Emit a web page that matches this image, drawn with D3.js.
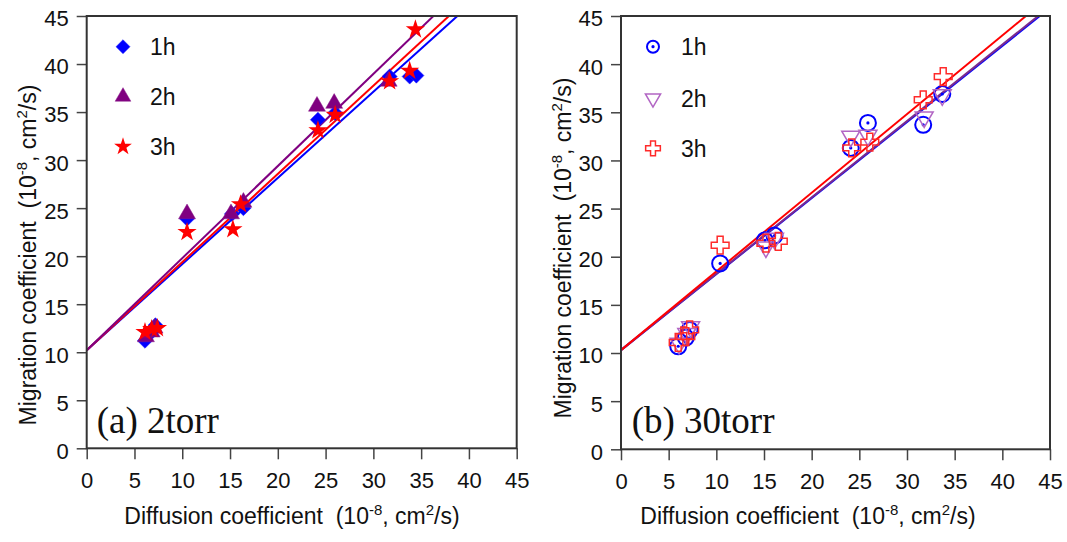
<!DOCTYPE html>
<html>
<head>
<meta charset="utf-8">
<script src="https://cdn.jsdelivr.net/npm/d3@7"></script>
<style>
  html, body { margin: 0; padding: 0; background: #fff; }
  svg { display: block; }
</style>
</head>
<body>
<svg id="chart" width="1067" height="542"></svg>
<script>
// ---------------- DATA ----------------
const xTicks = [0, 5, 10, 15, 20, 25, 30, 35, 40, 45];
const yTicks = [0, 5, 10, 15, 20, 25, 30, 35, 40, 45];
const seriesNames = ["1h", "2h", "3h"];
const panelLabels = ["(a) 2torr", "(b) 30torr"];

// Panel (a) 2 torr
const a1hX = [6.1, 6.7, 7.2, 10.5, 15.2, 16.4, 24.2, 26.0, 31.7, 33.8, 34.5];
const a1hY = [11.2, 12.0, 12.8, 23.9, 24.4, 25.0, 34.2, 34.9, 38.7, 38.7, 38.8];
const a2hX = [6.2, 6.8, 7.1, 10.5, 15.1, 16.4, 24.1, 25.9, 31.6];
const a2hY = [11.6, 12.1, 12.5, 24.4, 24.4, 25.6, 35.6, 35.9, 38.2];
const a3hX = [6.1, 6.8, 7.4, 10.5, 15.3, 16.1, 24.2, 26.0, 31.7, 33.8, 34.4];
const a3hY = [12.1, 12.4, 12.5, 22.5, 22.8, 25.4, 33.1, 34.7, 38.2, 39.3, 43.6];
// fitted lines (a): slope / intercept for 1h, 2h, 3h
const aSlope = [0.897, 0.959, 0.918];
const aIntercept = [10.2, 10.2, 10.2];

// Panel (b) 30 torr
const b1hX = [6.0, 6.8, 7.2, 10.4, 15.1, 16.1, 24.1, 25.9, 31.7, 33.7];
const b1hY = [10.7, 11.6, 12.4, 19.3, 21.7, 22.2, 31.3, 33.9, 33.7, 36.9];
const b2hX = [6.1, 6.9, 7.3, 15.2, 16.1, 24.1, 25.9, 31.8, 33.7];
const b2hY = [11.0, 12.0, 12.7, 21.0, 21.9, 32.5, 32.6, 34.5, 36.8];
const b3hX = [6.0, 6.8, 7.2, 10.4, 15.2, 16.5, 24.2, 26.1, 31.7, 33.8];
const b3hY = [11.1, 11.7, 12.4, 21.2, 21.4, 21.6, 31.3, 31.9, 36.3, 38.7];
const bSlope = [0.790, 0.793, 0.817];
const bIntercept = [10.3, 10.3, 10.3];

// ---------------- DRAW ----------------
const SANS = "Arial, 'Liberation Sans', Helvetica, sans-serif";
const SERIF = "'Times New Roman', 'Liberation Serif', Times, serif";
const svg = d3.select("#chart");

const zip = (xs, ys) => xs.map((x, i) => ({x, y: ys[i]}));

const panels = [
  {
    id: "a", x0: 86.7, x1: 516.7, y0: 448.3, y1: 16,
    label: panelLabels[0], labelX: 96.7,
    ytitle: [36, 255], xtitle: [292, 524],
    legend: {sx: 123, tx: 150, ys: [46.7, 96.7, 146.7]},
    series: [
      {pts: zip(a1hX, a1hY), kind: "diamond"},
      {pts: zip(a2hX, a2hY), kind: "triangle"},
      {pts: zip(a3hX, a3hY), kind: "star"}
    ],
    slope: aSlope, intercept: aIntercept,
    lineColors: ["#0000ff", "#800080", "#ff0000"],
    lineOrder: [0, 2, 1]
  },
  {
    id: "b", x0: 621, x1: 1050, y0: 449.3, y1: 16,
    label: panelLabels[1], labelX: 631.7,
    ytitle: [571, 248], xtitle: [808, 524],
    legend: {sx: 653, tx: 681, ys: [46.7, 98.3, 148.3]},
    series: [
      {pts: zip(b1hX, b1hY), kind: "circle"},
      {pts: zip(b2hX, b2hY), kind: "tridown"},
      {pts: zip(b3hX, b3hY), kind: "cross"}
    ],
    slope: bSlope, intercept: bIntercept,
    lineColors: ["#0000ff", "#7b2a8f", "#ff0000"],
    lineOrder: [0, 1, 2]
  }
];

function drawMarker(g, kind, cx, cy, legend) {
  const k = legend ? 0.85 : 1;
  if (kind === "diamond") {
    g.append("path")
      .attr("d", d3.symbol().type(d3.symbolSquare).size(115 * k)())
      .attr("transform", `translate(${cx},${cy}) rotate(45)`)
      .attr("fill", "#0000ff").attr("stroke", "#2020ff").attr("stroke-width", 0.5);
  } else if (kind === "triangle") {
    g.append("path")
      .attr("d", d3.symbol().type(d3.symbolTriangle).size(125 * k)())
      .attr("transform", `translate(${cx},${cy})`)
      .attr("fill", "#800080").attr("stroke", "#8a1a8a").attr("stroke-width", 0.5);
  } else if (kind === "star") {
    g.append("path")
      .attr("d", d3.symbol().type(d3.symbolStar).size(115 * k)())
      .attr("transform", `translate(${cx},${cy})`)
      .attr("fill", "#ff0000");
  } else if (kind === "circle") {
    const r = legend ? 6 : 8;
    g.append("circle").attr("cx", cx).attr("cy", cy).attr("r", r)
      .attr("fill", "none").attr("stroke", "#0000ff").attr("stroke-width", 2);
    g.append("circle").attr("cx", cx).attr("cy", cy).attr("r", 1.6)
      .attr("fill", "#0000ff");
  } else if (kind === "tridown") {
    g.append("path")
      .attr("d", d3.symbol().type(d3.symbolTriangle).size((legend ? 100 : 140))())
      .attr("transform", `translate(${cx},${cy}) rotate(180)`)
      .attr("fill", "none").attr("stroke", "#b266c4").attr("stroke-width", 1.5);
  } else if (kind === "cross") {
    g.append("path")
      .attr("d", d3.symbol().type(d3.symbolCross).size((legend ? 120 : 175))())
      .attr("transform", `translate(${cx},${cy})`)
      .attr("fill", "none").attr("stroke", "#ff2a2a").attr("stroke-width", 1.5);
  }
}

panels.forEach(p => {
  const x = d3.scaleLinear().domain([0, 45]).range([p.x0, p.x1]);
  const y = d3.scaleLinear().domain([0, 45]).range([p.y0, p.y1]);
  const g = svg.append("g").attr("class", "panel-" + p.id);

  // clip
  const clipId = "clip-" + p.id;
  svg.append("defs").append("clipPath").attr("id", clipId)
    .append("rect").attr("x", p.x0).attr("y", p.y1)
    .attr("width", p.x1 - p.x0).attr("height", p.y0 - p.y1);

  // axes
  const xAxis = d3.axisBottom(x).tickValues(xTicks).tickSize(11).tickSizeOuter(0).tickPadding(13);
  const yAxis = d3.axisLeft(y).tickValues(yTicks).tickSize(10).tickSizeOuter(0).tickPadding(8);

  const gx = g.append("g").attr("transform", `translate(0,${p.y0})`).call(xAxis);
  const gy = g.append("g").attr("transform", `translate(${p.x0},0)`).call(yAxis);
  [gx, gy].forEach(a => {
    a.select(".domain").remove();
    a.selectAll(".tick line").attr("stroke", "#444").attr("stroke-width", 1.5);
    a.selectAll(".tick text").attr("fill", "#111")
      .style("font-family", SANS).style("font-size", "22px");
  });
  gy.selectAll(".tick text").attr("dy", "0.45em");

  // lines
  const lg = g.append("g").attr("clip-path", `url(#${clipId})`);
  p.lineOrder.forEach(i => {
    const f = v => p.intercept[i] + p.slope[i] * v;
    lg.append("line")
      .attr("x1", x(0)).attr("y1", y(f(0)))
      .attr("x2", x(45)).attr("y2", y(f(45)))
      .attr("stroke", p.lineColors[i]).attr("stroke-width", 2);
  });

  // points
  const mg = g.append("g");
  p.series.forEach(s => {
    s.pts.forEach(d => drawMarker(mg, s.kind, x(d.x), y(d.y), false));
  });

  // frame
  g.append("rect").attr("x", p.x0).attr("y", p.y1)
    .attr("width", p.x1 - p.x0).attr("height", p.y0 - p.y1)
    .attr("fill", "none").attr("stroke", "#333").attr("stroke-width", 2);

  // legend
  p.series.forEach((s, i) => {
    const ly = p.legend.ys[i];
    drawMarker(g, s.kind, p.legend.sx, ly, true);
    g.append("text").attr("x", p.legend.tx).attr("y", ly).attr("dy", "0.38em")
      .style("font-family", SANS).style("font-size", "23px").attr("fill", "#111")
      .text(seriesNames[i]);
  });

  // panel label
  g.append("text").attr("x", p.labelX).attr("y", 433)
    .style("font-family", SERIF).style("font-size", "37px").attr("fill", "#111")
    .text(p.label);

  // x title
  const xt = g.append("text").attr("x", p.xtitle[0]).attr("y", p.xtitle[1])
    .attr("text-anchor", "middle").style("font-family", SANS).style("font-size", "23px")
    .attr("fill", "#111").attr("xml:space", "preserve").style("white-space", "pre");
  xt.append("tspan").text("Diffusion coefficient  (10");
  xt.append("tspan").attr("dy", "-9").style("font-size", "15px").text("-8");
  xt.append("tspan").attr("dy", "9").text(", cm");
  xt.append("tspan").attr("dy", "-9").style("font-size", "15px").text("2");
  xt.append("tspan").attr("dy", "9").text("/s)");

  // y title
  const yt = g.append("text").attr("transform", `translate(${p.ytitle[0]},${p.ytitle[1]}) rotate(-90)`)
    .attr("text-anchor", "middle").style("font-family", SANS).style("font-size", "23px")
    .attr("fill", "#111").attr("xml:space", "preserve").style("white-space", "pre");
  yt.append("tspan").text("Migration coefficient  (10");
  yt.append("tspan").attr("dy", "-9").style("font-size", "15px").text("-8");
  yt.append("tspan").attr("dy", "9").text(", cm");
  yt.append("tspan").attr("dy", "-9").style("font-size", "15px").text("2");
  yt.append("tspan").attr("dy", "9").text("/s)");
});
</script>
</body>
</html>
